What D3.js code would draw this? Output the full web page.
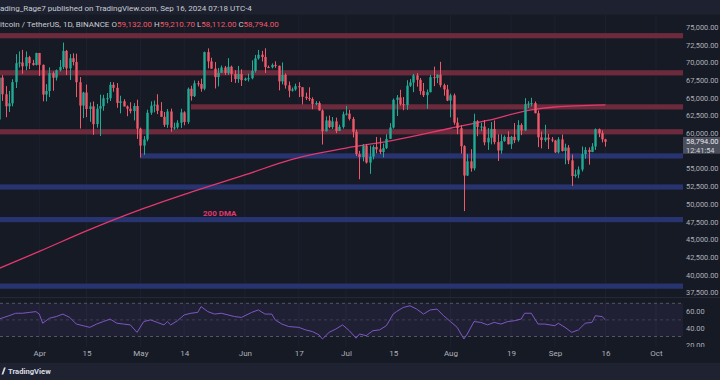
<!DOCTYPE html>
<html><head><meta charset="utf-8">
<script src="https://cdn.jsdelivr.net/npm/d3@7"></script>
<style>html,body{margin:0;padding:0;background:#161a25;overflow:hidden}svg{display:block}</style>
</head><body><svg id="c" width="720" height="380"></svg>
<script>
// ---------- DATA ----------
const startDate = "2024-03-20";
// daily candles [open, high, low, close]
const mar = [[61930,68100,60775,67850],[67850,68200,64560,65500],[65500,66650,62260,63800],[63800,65970,63000,64220],[64220,67620,63800,67210],[67210,71150,66380,69880],[69880,71560,69280,69990],[69990,71770,68380,69450],[69450,71550,68900,70740],[70740,70930,69060,69890],[69890,70360,69540,69650],[69650,71370,69560,71330]];
const apr = [[71330,71340,68100,69650],[69650,69700,64500,65460],[65460,66920,64490,65960],[65960,69290,65100,68490],[68490,68720,66000,67840],[67840,69000,67440,68900],[68900,70330,68700,69360],[69360,72800,69040,71620],[71620,71760,68210,69150],[69150,71170,67520,70590],[70590,71280,69570,70060],[70060,71230,65090,67200],[67200,67930,60660,63900],[63900,65840,62130,65740],[65740,66870,62270,63420],[63420,64360,61610,63790],[63790,64480,59770,61280],[61280,64120,60780,63470],[63470,65450,59600,63820],[63820,65420,63170,64940],[64940,65680,64230,64940],[64940,67230,64550,66840],[66840,67200,65860,66410],[66410,67080,63590,64280],[64280,65290,62800,64500],[64500,64800,63800,63770],[63770,63920,62400,63460],[63460,64370,62800,63120],[63120,64240,61800,63840],[63840,64730,59190,60640]];
const may = [[60640,60780,56550,58250],[58250,59600,56940,59120],[59120,63320,58850,62890],[62890,64500,62600,63890],[63890,64610,62950,64030],[64030,65500,62700,63160],[63160,64390,62290,62310],[62310,62990,60880,61190],[61190,63420,60750,63070],[63070,63470,60200,60790],[60790,61490,60490,60820],[60820,61830,60630,61480],[61480,63450,60750,62940],[62940,63100,61120,61580],[61580,66450,61320,66270],[66270,66700,64600,65230],[65230,67450,65110,67050],[67050,67400,66600,66940],[66940,67700,65860,66280],[66280,71520,66060,71450],[71450,71980,69160,70140],[70140,70660,69100,69120],[69120,70050,66320,67930],[67930,69220,66620,68530],[68530,69560,68530,69280],[69280,69500,68240,68510],[68510,70600,68230,69390],[69390,69550,67230,68370],[68370,68900,67100,67640],[67640,69500,67120,68350],[68350,69020,66670,67490]];
const jun = [[67490,67860,67390,67710],[67710,68410,67300,67760],[67760,70290,67610,68800],[68800,71060,68550,70570],[70570,71760,70380,71080],[71080,71630,70120,70760],[70760,71990,68500,69340],[69340,69560,69200,69310],[69310,69850,69150,69650],[69650,70150,69230,69510],[69510,69560,66050,67320],[67320,69990,66900,68240],[68240,68450,66300,66760],[66760,67300,65080,66010],[66010,66450,65870,66190],[66190,66990,66000,66640],[66640,67200,65100,66490],[66490,66490,64060,65150],[65150,65730,64690,64960],[64960,66480,64550,64830],[64830,65070,63380,64100],[64100,64530,63950,64260],[64260,64500,63200,63210],[63210,63370,58400,60280],[60280,62370,60240,61800],[61800,62490,60710,60860],[60860,62290,60600,61670],[61670,62200,60000,60320],[60320,61200,60300,60890],[60890,63050,60650,62680]];
const jul = [[62680,63860,62500,62770],[62770,63300,61800,62020],[62020,62300,59400,60200],[60200,60500,56770,57040],[57040,57500,53500,56640],[56640,58480,56020,58230],[58230,58480,55720,55850],[55850,58240,54260,56700],[56700,58300,56300,58050],[58050,59470,57160,57720],[57720,59380,57050,57340],[57340,58530,56580,57890],[57890,59850,57760,59200],[59200,61420,59200,60800],[60800,64900,60650,64720],[64720,65390,62420,65040],[65040,66130,63900,64090],[64090,65100,63240,63970],[63970,67480,63300,66710],[66710,67640,66530,67160],[67160,68370,65800,68170],[68170,68480,66580,67540],[67540,67800,65440,65940],[65940,67100,65110,65370],[65370,66180,63450,65800],[65800,68230,65750,67910],[67910,69400,66650,67810],[67810,68320,67070,68260],[68260,70080,66480,66780],[66780,67000,65300,66190],[66190,66830,64530,64620]];
const aug = [[64620,65590,62250,65350],[65350,65600,61200,61500],[61500,62200,59860,60700],[60700,61120,57120,58160],[58160,58300,49000,54020],[54020,57040,53960,56030],[56030,57740,54560,55030],[55030,62750,54730,61710],[61710,61840,59570,60880],[60880,61470,60280,60940],[60940,61850,58290,58710],[58710,60720,57640,59350],[59350,61580,58420,60600],[60600,61800,58430,58740],[58740,59850,56080,57560],[57560,59850,57100,58880],[58880,59690,58780,59480],[59480,60270,58420,58440],[58440,59620,57780,59490],[59490,61430,58600,59010],[59010,61830,58790,61160],[61160,61400,59730,60380],[60380,64950,60350,64090],[64090,64520,63550,64180],[64180,65000,63800,64250],[64250,64480,62800,62830],[62830,63210,58030,59420],[59420,60230,57860,59030],[59030,61190,58790,59370],[59370,59900,57760,59120],[59120,59460,58740,58970]];
const sep = [[58970,59060,57200,57300],[57300,59430,57130,59130],[59130,59810,57410,57490],[57490,58520,55610,57970],[57970,58320,55640,56160],[56160,56990,52550,53950],[53950,54850,53740,54160],[54160,55310,53640,54870],[54870,58120,54590,57050],[57050,58040,56400,57640],[57640,57990,55550,57340],[57340,58590,57320,58130],[58130,60670,57630,60570],[60570,60660,59440,60000],[60000,60380,58700,59130],[59132,59210.7,58112,58794]];

// 200-day moving average, read at dates
const dmaDates = ["2024-03-20","2024-04-01","2024-04-15","2024-05-01","2024-05-15","2024-06-01","2024-06-15","2024-07-01","2024-07-15","2024-08-01","2024-08-12","2024-08-25","2024-09-01","2024-09-16"];
const dmaValues = [40900,43300,46200,49200,51500,54100,56300,57900,59000,60700,61800,63300,63700,64000];

// RSI, day index from startDate and value
const rsiDay = [0,3,5,7,9,11,12,13,15,17,19,21,23,25,27,29,31,33,35,37,39,41,43,45,47,49,50,51,53,55,57,59,60,62,64,66,68,70,72,75,77,79,81,82,84,86,89,91,93,95,96,98,100,102,104,106,107,109,111,113,115,117,118,120,122,124,126,128,130,132,134,136,138,139,141,143,145,147,149,151,153,155,156,158,160,162,165,166,168,170,172,174,176,177,179,180];
const rsiVal = [51,55,58,58,59,60,57,46,52,54,57,53,45,43,41,45,48,51,46,45,44,35,48,50,47,44,48,44,49,56,58,59,66,60,57,58,56,54,53,59,62,57,57,50,45,42,41,38,36,32,27,35,39,44,37,28,33,31,37,38,43,57,60,65,67,63,57,62,63,55,48,41,27,33,48,47,44,47,45,48,49,51,58,58,45,45,43,46,41,35,38,46,47,55,54,50];

// horizontal zones: price level, start date (null = left edge), kind
const zoneLevels = [73770,68530,63720,60200,56790,52400,47800,38400];
const zoneStarts = [null,null,"2024-05-16",null,"2024-05-01",null,null,null];
const zoneKinds = ["res","res","res","res","sup","sup","sup","sup"];

const priceTicks = [75000,72500,70000,67500,65000,62500,60000,55000,52500,50000,47500,45000,42500,40000,37500];
const rsiTicks = [60,40,20];
const timeTickDates = ["2024-04-01","2024-04-15","2024-05-01","2024-05-14","2024-06-01","2024-06-17","2024-07-01","2024-07-15","2024-08-01","2024-08-19","2024-09-01","2024-09-16","2024-10-01"];
const timeTickLabels = ["Apr","15","May","14","Jun","17","Jul","15","Aug","19","Sep","16","Oct"];

const headerText = "ading_Rage7 published on TradingView.com, Sep 16, 2024 07:18 UTC-4";
const symbolText = "itcoin / TetherUS, 1D, BINANCE";
const lastClock = "12:41:54";

// ---------- DRAW ----------
const W = 720, H = 380;
const FONT = "Roboto, 'Liberation Sans', Arial, sans-serif";
const AXF = 7.4;
const UP = "#22ab94", DOWN = "#f0596a";
const parse = d3.utcParse("%Y-%m-%d");
const start = parse(startDate);
const candles = [...mar, ...apr, ...may, ...jun, ...jul, ...aug, ...sep].map((d, i) => ({
  date: d3.utcDay.offset(start, i), o: d[0], h: d[1], l: d[2], c: d[3]
}));

const plotRight = 684;
const x = d3.scaleUtc().domain([parse("2024-04-01"), parse("2024-10-01")]).range([39.3, 656]);
const y = d3.scaleLinear().domain([37500, 75000]).range([292.5, 27]);
const yr = d3.scaleLinear().domain([30, 70]).range([336.5, 303.3]);

const svg = d3.select("#c");
svg.append("rect").attr("width", W).attr("height", H).attr("fill", "#161a25");
svg.append("rect").attr("width", W).attr("height", 14.5).attr("fill", "#1e2230");
svg.append("rect").attr("y", 363).attr("width", W).attr("height", 17).attr("fill", "#1f2331");

const defs = svg.append("defs");
defs.append("clipPath").attr("id", "plot").append("rect").attr("x", 0).attr("y", 14.5).attr("width", plotRight).attr("height", 283);
defs.append("clipPath").attr("id", "rsiclip").append("rect").attr("x", 0).attr("y", 298).attr("width", W).attr("height", 49);

// vertical grid lines
svg.append("g").selectAll("line").data(timeTickDates).join("line")
  .attr("x1", d => x(parse(d))).attr("x2", d => x(parse(d)))
  .attr("y1", 14.5).attr("y2", 347).attr("stroke", "#1d2130").attr("stroke-width", 1);

// zones
const plot = svg.append("g").attr("clip-path", "url(#plot)");
plot.append("g").selectAll("rect").data(zoneLevels).join("rect")
  .attr("x", (d, i) => zoneStarts[i] ? x(parse(zoneStarts[i])) : 0)
  .attr("width", (d, i) => plotRight - 1 - (zoneStarts[i] ? x(parse(zoneStarts[i])) : 0))
  .attr("y", d => y(d) - 2.6).attr("height", 5.2)
  .attr("fill", (d, i) => zoneKinds[i] === "res" ? "#6c2b3d" : "#28346f");

// 200 DMA
const dma = dmaDates.map((d, i) => ({ date: parse(d), v: dmaValues[i] }));
plot.append("path").datum(dma)
  .attr("d", d3.line().x(d => x(d.date)).y(d => y(d.v)).curve(d3.curveMonotoneX))
  .attr("fill", "none").attr("stroke", "#e2386e").attr("stroke-width", 1.3);
svg.append("text").attr("x", 203).attr("y", 216).text("200 DMA")
  .attr("font-family", FONT).attr("font-size", 8).attr("font-weight", "bold").attr("fill", "#e2386e");

// candles
const cg = plot.append("g");
cg.selectAll("line").data(candles).join("line")
  .attr("x1", d => Math.round(x(d.date)) + 0.5).attr("x2", d => Math.round(x(d.date)) + 0.5)
  .attr("y1", d => y(d.h)).attr("y2", d => y(d.l))
  .attr("stroke", d => d.c >= d.o ? UP : DOWN).attr("stroke-width", 1);
cg.selectAll("rect").data(candles).join("rect")
  .attr("x", d => Math.round(x(d.date)) + 0.5 - 1.2).attr("width", 2.4)
  .attr("y", d => y(Math.max(d.o, d.c)))
  .attr("height", d => Math.max(1, Math.abs(y(d.o) - y(d.c))))
  .attr("fill", d => d.c >= d.o ? UP : DOWN);

// pane separator
svg.append("line").attr("x1", 0).attr("x2", W).attr("y1", 297.5).attr("y2", 297.5).attr("stroke", "#252936");

// RSI pane
const rg = svg.append("g").attr("clip-path", "url(#rsiclip)");
rg.append("rect").attr("x", 0).attr("width", plotRight - 1).attr("y", yr(70)).attr("height", yr(30) - yr(70))
  .attr("fill", "rgba(126,87,194,0.10)");
rg.selectAll("line.lvl").data([70, 50, 30]).join("line").attr("class", "lvl")
  .attr("x1", 0).attr("x2", plotRight - 1).attr("y1", d => yr(d)).attr("y2", d => yr(d))
  .attr("stroke", "#787b86").attr("stroke-opacity", d => d === 50 ? 0.35 : 0.6)
  .attr("stroke-dasharray", "3,3");
const rsi = rsiDay.map((d, i) => ({ date: d3.utcDay.offset(start, d), v: rsiVal[i] }));
rg.append("path").datum(rsi)
  .attr("d", d3.line().x(d => x(d.date)).y(d => yr(d.v)))
  .attr("fill", "none").attr("stroke", "#7e57c2").attr("stroke-width", 1);

// price axis
const pa = svg.append("g").attr("transform", `translate(${plotRight},0)`)
  .call(d3.axisRight(y).tickValues(priceTicks).tickFormat(d3.format(",.2f")).tickSize(0).tickPadding(2));
pa.select(".domain").remove();
pa.selectAll("text").attr("font-family", FONT).attr("font-size", AXF).attr("fill", "#aeb1ba");

// last price label
const last = candles[candles.length - 1];
const ly = y(last.c);
svg.append("rect").attr("x", 683).attr("y", ly - 4.8).attr("width", 37).attr("height", 16.8).attr("fill", "#4a4e5b");
svg.append("text").attr("x", 686).attr("y", ly).attr("dy", "0.35em").text(d3.format(",.2f")(last.c))
  .attr("font-family", FONT).attr("font-size", AXF).attr("fill", "#e6e8ee");
svg.append("text").attr("x", 686).attr("y", ly + 8.4).attr("dy", "0.35em").text(lastClock)
  .attr("font-family", FONT).attr("font-size", AXF).attr("fill", "#d0d3da");

// RSI axis
const ra = svg.append("g").attr("clip-path", "url(#rsiclip)").append("g").attr("transform", `translate(${plotRight},0)`)
  .call(d3.axisRight(yr).tickValues(rsiTicks).tickFormat(d3.format(".2f")).tickSize(0).tickPadding(2));
ra.select(".domain").remove();
ra.selectAll("text").attr("font-family", FONT).attr("font-size", AXF).attr("fill", "#aeb1ba");

// time axis
const ta = svg.append("g").attr("transform", "translate(0,348)")
  .call(d3.axisBottom(x).tickValues(timeTickDates.map(parse)).tickFormat((d, i) => timeTickLabels[i]).tickSize(0).tickPadding(2));
ta.select(".domain").remove();
ta.selectAll("text").attr("font-family", FONT).attr("font-size", 8).attr("fill", "#aeb1ba");

// header texts
svg.append("text").attr("x", 0).attr("y", 8).attr("dy", "0.35em").text(headerText)
  .attr("font-family", FONT).attr("font-size", 8).attr("fill", "#c9ccd4");
const legend = svg.append("text").attr("x", 0).attr("y", 24).attr("dy", "0.35em")
  .attr("font-family", FONT).attr("font-size", 8).attr("fill", "#c9ccd4");
legend.append("tspan").text(symbolText + "  ");
[["O", last.o], ["H", last.h], ["L", last.l], ["C", last.c]].forEach(([k, v]) => {
  legend.append("tspan").text(k).attr("fill", "#c9ccd4");
  legend.append("tspan").text(d3.format(",.2f")(v) + " ").attr("fill", DOWN);
});

// footer logo + text
svg.append("path").attr("d", "M1.5,374.5 L4,367.5 L5.8,367.5 L3.3,374.5 Z").attr("fill", "#d8dbe2");
svg.append("text").attr("x", 8).attr("y", 371).attr("dy", "0.35em").text("TradingView")
  .attr("font-family", FONT).attr("font-size", 7.6).attr("font-weight", "bold").attr("fill", "#d8dbe2");
</script></body></html>
